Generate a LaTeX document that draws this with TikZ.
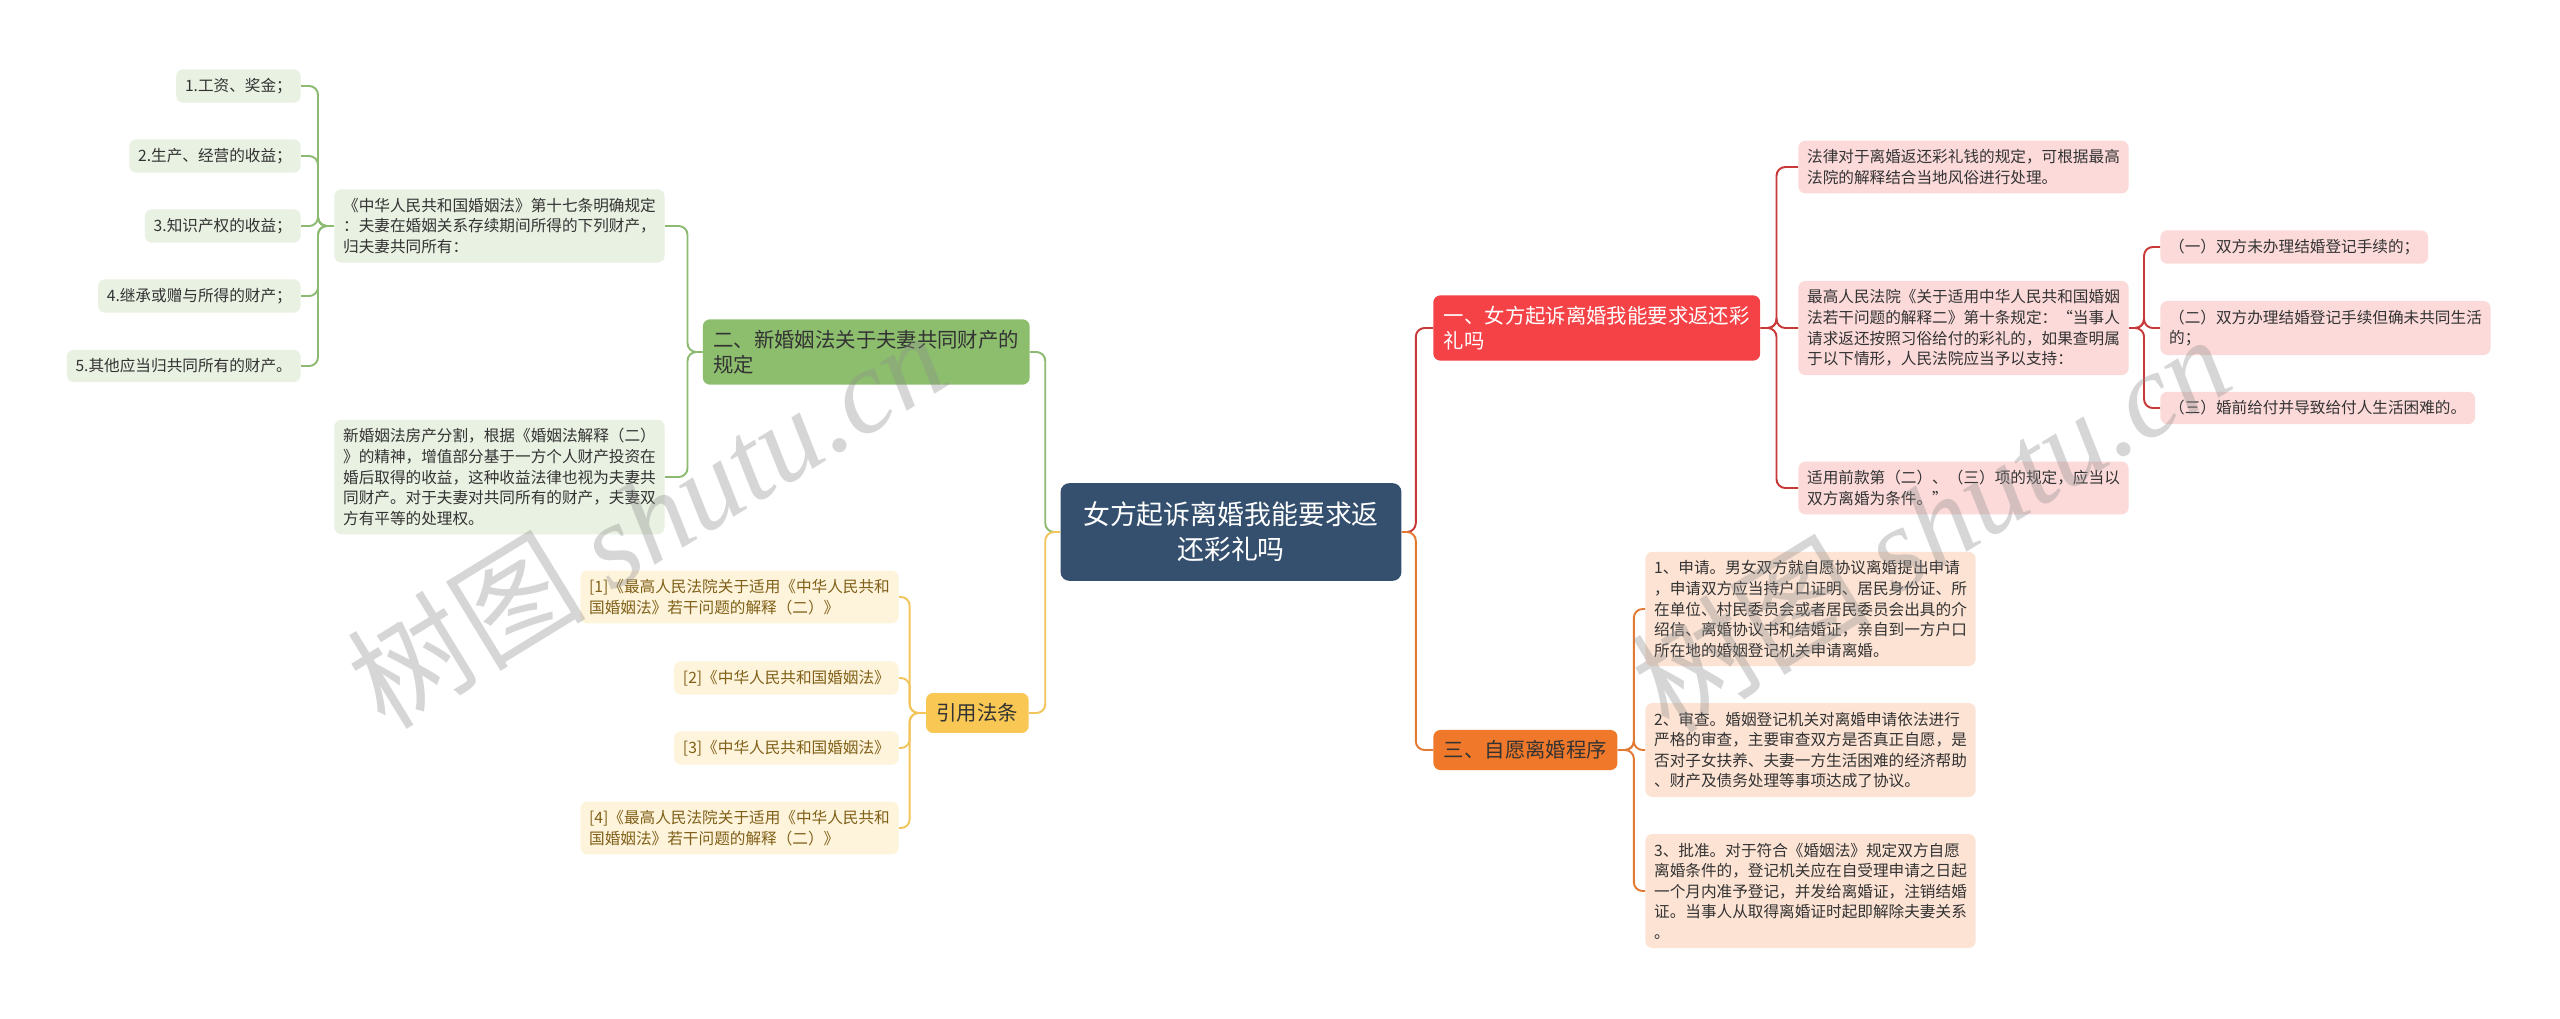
\documentclass[tikz,border=0pt]{standalone}
\usepackage{fontspec}
\setmainfont{Noto Sans CJK SC}
\newfontfamily\wmfont{Liberation Serif}
\definecolor{mapnavy}{RGB}{52, 80, 110}
\definecolor{mapred}{RGB}{245, 66, 70}
\definecolor{maporange}{RGB}{240, 120, 42}
\definecolor{mapgreen}{RGB}{141, 190, 110}
\definecolor{mapyellow}{RGB}{248, 199, 84}
\definecolor{linered}{RGB}{200, 56, 56}
\definecolor{lineorange}{RGB}{226, 122, 52}
\definecolor{linegreen}{RGB}{140, 186, 112}
\definecolor{lineyellow}{RGB}{242, 197, 92}
\definecolor{leafred}{RGB}{252, 218, 218}
\definecolor{leaforange}{RGB}{252, 227, 212}
\definecolor{leafgreen}{RGB}{233, 241, 226}
\definecolor{leafyellow}{RGB}{254, 244, 220}
\definecolor{textdark}{RGB}{51, 51, 51}
\definecolor{textolive}{RGB}{128, 96, 24}

\begin{document}
\begin{tikzpicture}[
  x=0.02cm, y=-0.02cm,
  leaf/.style={rounded corners=4pt, inner xsep=5pt, inner ysep=5pt, align=left, text=textdark, font=\fontsize{8.9}{11.7}\selectfont},
  rleaf/.style={leaf, fill=leafred, anchor=west},
  oleaf/.style={leaf, fill=leaforange, anchor=west},
  gleaf/.style={leaf, fill=leafgreen, anchor=east},
  yleaf/.style={leaf, fill=leafyellow, anchor=east, text=textolive},
  branch/.style={rounded corners=4pt, inner xsep=6pt, inner ysep=6pt, align=left, font=\fontsize{11.6}{14.4}\selectfont},
  rootbox/.style={fill=mapnavy, text=white, rounded corners=5pt, minimum width=194pt, minimum height=55.6pt, align=center, font=\fontsize{15.3}{19.8}\selectfont},
  rline/.style={draw=linered, line width=1.1pt, rounded corners=5pt},
  oline/.style={draw=lineorange, line width=1.1pt, rounded corners=5pt},
  gline/.style={draw=linegreen, line width=1.1pt, rounded corners=5pt},
  yline/.style={draw=lineyellow, line width=1.1pt, rounded corners=5pt},
  wmark/.style={text=black!45, text opacity=0.35, font=\fontsize{68}{68}\selectfont}
]
  \fill[white] (0,0) rectangle (2560,1018);
  \useasboundingbox (0,0) rectangle (2560,1018);

  \node[rootbox] (root) at (1231,532) {女方起诉离婚我能要求返\\还彩礼吗};

  \node[branch, fill=mapred, text=white, anchor=west] (br1) at (1433,328) {一、女方起诉离婚我能要求返还彩\\礼吗};
  \node[branch, fill=maporange, text=textdark, anchor=west] (br3) at (1433,750) {三、自愿离婚程序};
  \node[branch, fill=mapgreen, text=textdark, anchor=east] (br2) at (1030,352) {二、新婚姻法关于夫妻共同财产的\\规定};
  \node[branch, fill=mapyellow, text=textdark, anchor=east] (cite) at (1029,713) {引用法条};

  \node[rleaf] (r1) at (1798,167) {法律对于离婚返还彩礼钱的规定，可根据最高\\法院的解释结合当地风俗进行处理。};
  \node[rleaf] (r2) at (1798,328) {最高人民法院《关于适用中华人民共和国婚姻\\法若干问题的解释二》第十条规定：“当事人\\请求返还按照习俗给付的彩礼的，如果查明属\\于以下情形，人民法院应当予以支持：};
  \node[rleaf] (r3) at (1798,488) {适用前款第（二）、（三）项的规定，应当以\\双方离婚为条件。”};

  \node[rleaf] (s1) at (2160,247) {（一）双方未办理结婚登记手续的；};
  \node[rleaf] (s2) at (2160,328) {（二）双方办理结婚登记手续但确未共同生活\\的；};
  \node[rleaf] (s3) at (2160,408) {（三）婚前给付并导致给付人生活困难的。};

  \node[oleaf] (o1) at (1645,609) {1、申请。男女双方就自愿协议离婚提出申请\\，申请双方应当持户口证明、居民身份证、所\\在单位、村民委员会或者居民委员会出具的介\\绍信、离婚协议书和结婚证，亲自到一方户口\\所在地的婚姻登记机关申请离婚。};
  \node[oleaf] (o2) at (1645,750) {2、审查。婚姻登记机关对离婚申请依法进行\\严格的审查，主要审查双方是否真正自愿，是\\否对子女扶养、夫妻一方生活困难的经济帮助\\、财产及债务处理等事项达成了协议。};
  \node[oleaf] (o3) at (1645,891) {3、批准。对于符合《婚姻法》规定双方自愿\\离婚条件的，登记机关应在自受理申请之日起\\一个月内准予登记，并发给离婚证，注销结婚\\证。当事人从取得离婚证时起即解除夫妻关系\\。};

  \node[gleaf] (n1) at (665,226) {《中华人民共和国婚姻法》第十七条明确规定\\：夫妻在婚姻关系存续期间所得的下列财产，\\归夫妻共同所有：};
  \node[gleaf] (n2) at (665,477) {新婚姻法房产分割，根据《婚姻法解释（二）\\》的精神，增值部分基于一方个人财产投资在\\婚后取得的收益，这种收益法律也视为夫妻共\\同财产。对于夫妻对共同所有的财产，夫妻双\\方有平等的处理权。};

  \node[gleaf] (g1) at (301,86) {1.工资、奖金；};
  \node[gleaf] (g2) at (301,156) {2.生产、经营的收益；};
  \node[gleaf] (g3) at (301,226) {3.知识产权的收益；};
  \node[gleaf] (g4) at (301,296) {4.继承或赠与所得的财产；};
  \node[gleaf] (g5) at (301,366) {5.其他应当归共同所有的财产。};

  \node[yleaf] (y1) at (899,597) {[1]《最高人民法院关于适用《中华人民共和\\国婚姻法》若干问题的解释（二）》};
  \node[yleaf] (y2) at (899,678) {[2]《中华人民共和国婚姻法》};
  \node[yleaf] (y3) at (899,748) {[3]《中华人民共和国婚姻法》};
  \node[yleaf] (y4) at (899,828) {[4]《最高人民法院关于适用《中华人民共和\\国婚姻法》若干问题的解释（二）》};

  \draw[rline] (root.east) -- ++(14,0) |- (br1.west);
  \draw[oline] (root.east) -- ++(14,0) |- (br3.west);
  \draw[gline] (root.west) -- ++(-15,0) |- (br2.east);
  \draw[yline] (root.west) -- ++(-15,0) |- (cite.east);

  \draw[rline] (br1.east) -- ++(16,0) |- (r1.west);
  \draw[rline] (br1.east) -- ++(16,0) |- (r2.west);
  \draw[rline] (br1.east) -- ++(16,0) |- (r3.west);
  \draw[rline] (r2.east) -- ++(15,0) |- (s1.west);
  \draw[rline] (r2.east) -- ++(15,0) |- (s2.west);
  \draw[rline] (r2.east) -- ++(15,0) |- (s3.west);

  \draw[oline] (br3.east) -- ++(16,0) |- (o1.west);
  \draw[oline] (br3.east) -- ++(16,0) |- (o2.west);
  \draw[oline] (br3.east) -- ++(16,0) |- (o3.west);

  \draw[gline] (br2.west) -- ++(-15,0) |- (n1.east);
  \draw[gline] (br2.west) -- ++(-15,0) |- (n2.east);
  \draw[gline] (n1.west) -- ++(-16,0) |- (g1.east);
  \draw[gline] (n1.west) -- ++(-16,0) |- (g2.east);
  \draw[gline] (n1.west) -- ++(-16,0) |- (g3.east);
  \draw[gline] (n1.west) -- ++(-16,0) |- (g4.east);
  \draw[gline] (n1.west) -- ++(-16,0) |- (g5.east);

  \draw[yline] (cite.west) -- ++(-16,0) |- (y1.east);
  \draw[yline] (cite.west) -- ++(-16,0) |- (y2.east);
  \draw[yline] (cite.west) -- ++(-16,0) |- (y3.east);
  \draw[yline] (cite.west) -- ++(-16,0) |- (y4.east);

  \node[wmark, rotate=31.5] (wm1) at (646,518) {树图 {\wmfont\itshape shutu.cn}};
  \node[wmark, rotate=31.5] (wm2) at (1930,522) {树图 {\wmfont\itshape shutu.cn}};
\end{tikzpicture}
\end{document}
